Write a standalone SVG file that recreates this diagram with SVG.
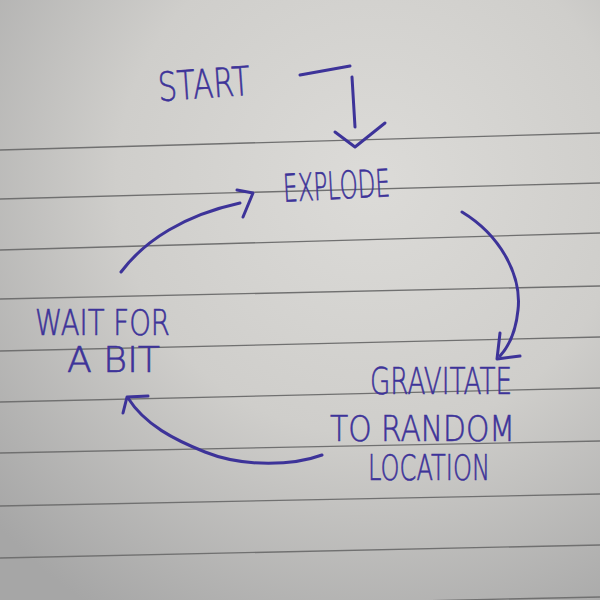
<svg xmlns="http://www.w3.org/2000/svg" width="600" height="600" viewBox="0 0 600 600">
  <defs>
    <radialGradient id="paper" cx="0.62" cy="0.3" r="0.85">
      <stop offset="0" stop-color="#dcdbd8"/>
      <stop offset="0.5" stop-color="#cfcecb"/>
      <stop offset="1" stop-color="#a6a6a6"/>
    </radialGradient>
    <style>
      .rule { stroke: #707070; stroke-width: 1.3; fill: none; }
      .ink { stroke: #3d3399; stroke-width: 3; fill: none; stroke-linecap: round; stroke-linejoin: round; }
      .lbl { font-family: "DejaVu Sans", "Liberation Sans", sans-serif; font-weight: 200; fill: #3d3399; stroke: #3d3399; stroke-width: 0.6; }
    </style>
  </defs>
  <rect width="600" height="600" fill="url(#paper)"/>
  <g id="rules">
    <line class="rule" x1="0" y1="150" x2="600" y2="133"/>
    <line class="rule" x1="0" y1="199" x2="600" y2="183"/>
    <line class="rule" x1="0" y1="250" x2="600" y2="233"/>
    <line class="rule" x1="0" y1="299" x2="600" y2="286"/>
    <line class="rule" x1="0" y1="351" x2="600" y2="337"/>
    <line class="rule" x1="0" y1="402" x2="600" y2="388"/>
    <line class="rule" x1="0" y1="453" x2="600" y2="441"/>
    <line class="rule" x1="0" y1="506" x2="600" y2="494"/>
    <line class="rule" x1="0" y1="558" x2="600" y2="545"/>
    <line class="rule" x1="0" y1="610" x2="600" y2="597"/>
  </g>
  <g id="connectors">
    <path class="ink" d="M300,75 L350,66 M352,77 L355,127"/>
    <path class="ink" d="M335,132 L355,147 L385,123"/>
    <path class="ink" d="M462,212 C500,235 522,275 518,310 C516,330 510,345 500,356"/>
    <path class="ink" d="M500,333 L497,359 L520,356"/>
    <path class="ink" d="M322,455 C295,465 245,468 205,452 C175,440 145,425 128,398"/>
    <path class="ink" d="M148,396 L127,397 L123,413"/>
    <path class="ink" d="M121,272 C145,240 185,215 240,203"/>
    <path class="ink" d="M237,190 L253,193 L243,217"/>
  </g>
  <g id="start"><text class="lbl" x="158" y="98" font-size="40" textLength="92" lengthAdjust="spacingAndGlyphs" transform="rotate(-4 204 84)">START</text></g>
  <g id="explode"><text class="lbl" x="283" y="199" font-size="38" textLength="107" lengthAdjust="spacingAndGlyphs" transform="rotate(-3 336 185)">EXPLODE</text></g>
  <g id="gravitate">
    <text class="lbl" x="370" y="394" font-size="38" textLength="142" lengthAdjust="spacingAndGlyphs">GRAVITATE</text>
    <text class="lbl" x="330" y="441" font-size="36" textLength="185" lengthAdjust="spacingAndGlyphs">TO RANDOM</text>
    <text class="lbl" x="368" y="480" font-size="35" textLength="122" lengthAdjust="spacingAndGlyphs">LOCATION</text>
  </g>
  <g id="wait">
    <text class="lbl" x="35" y="335" font-size="35" textLength="135" lengthAdjust="spacingAndGlyphs">WAIT FOR</text>
    <text class="lbl" x="67" y="372" font-size="35" textLength="93" lengthAdjust="spacingAndGlyphs">A BIT</text>
  </g>
</svg>
